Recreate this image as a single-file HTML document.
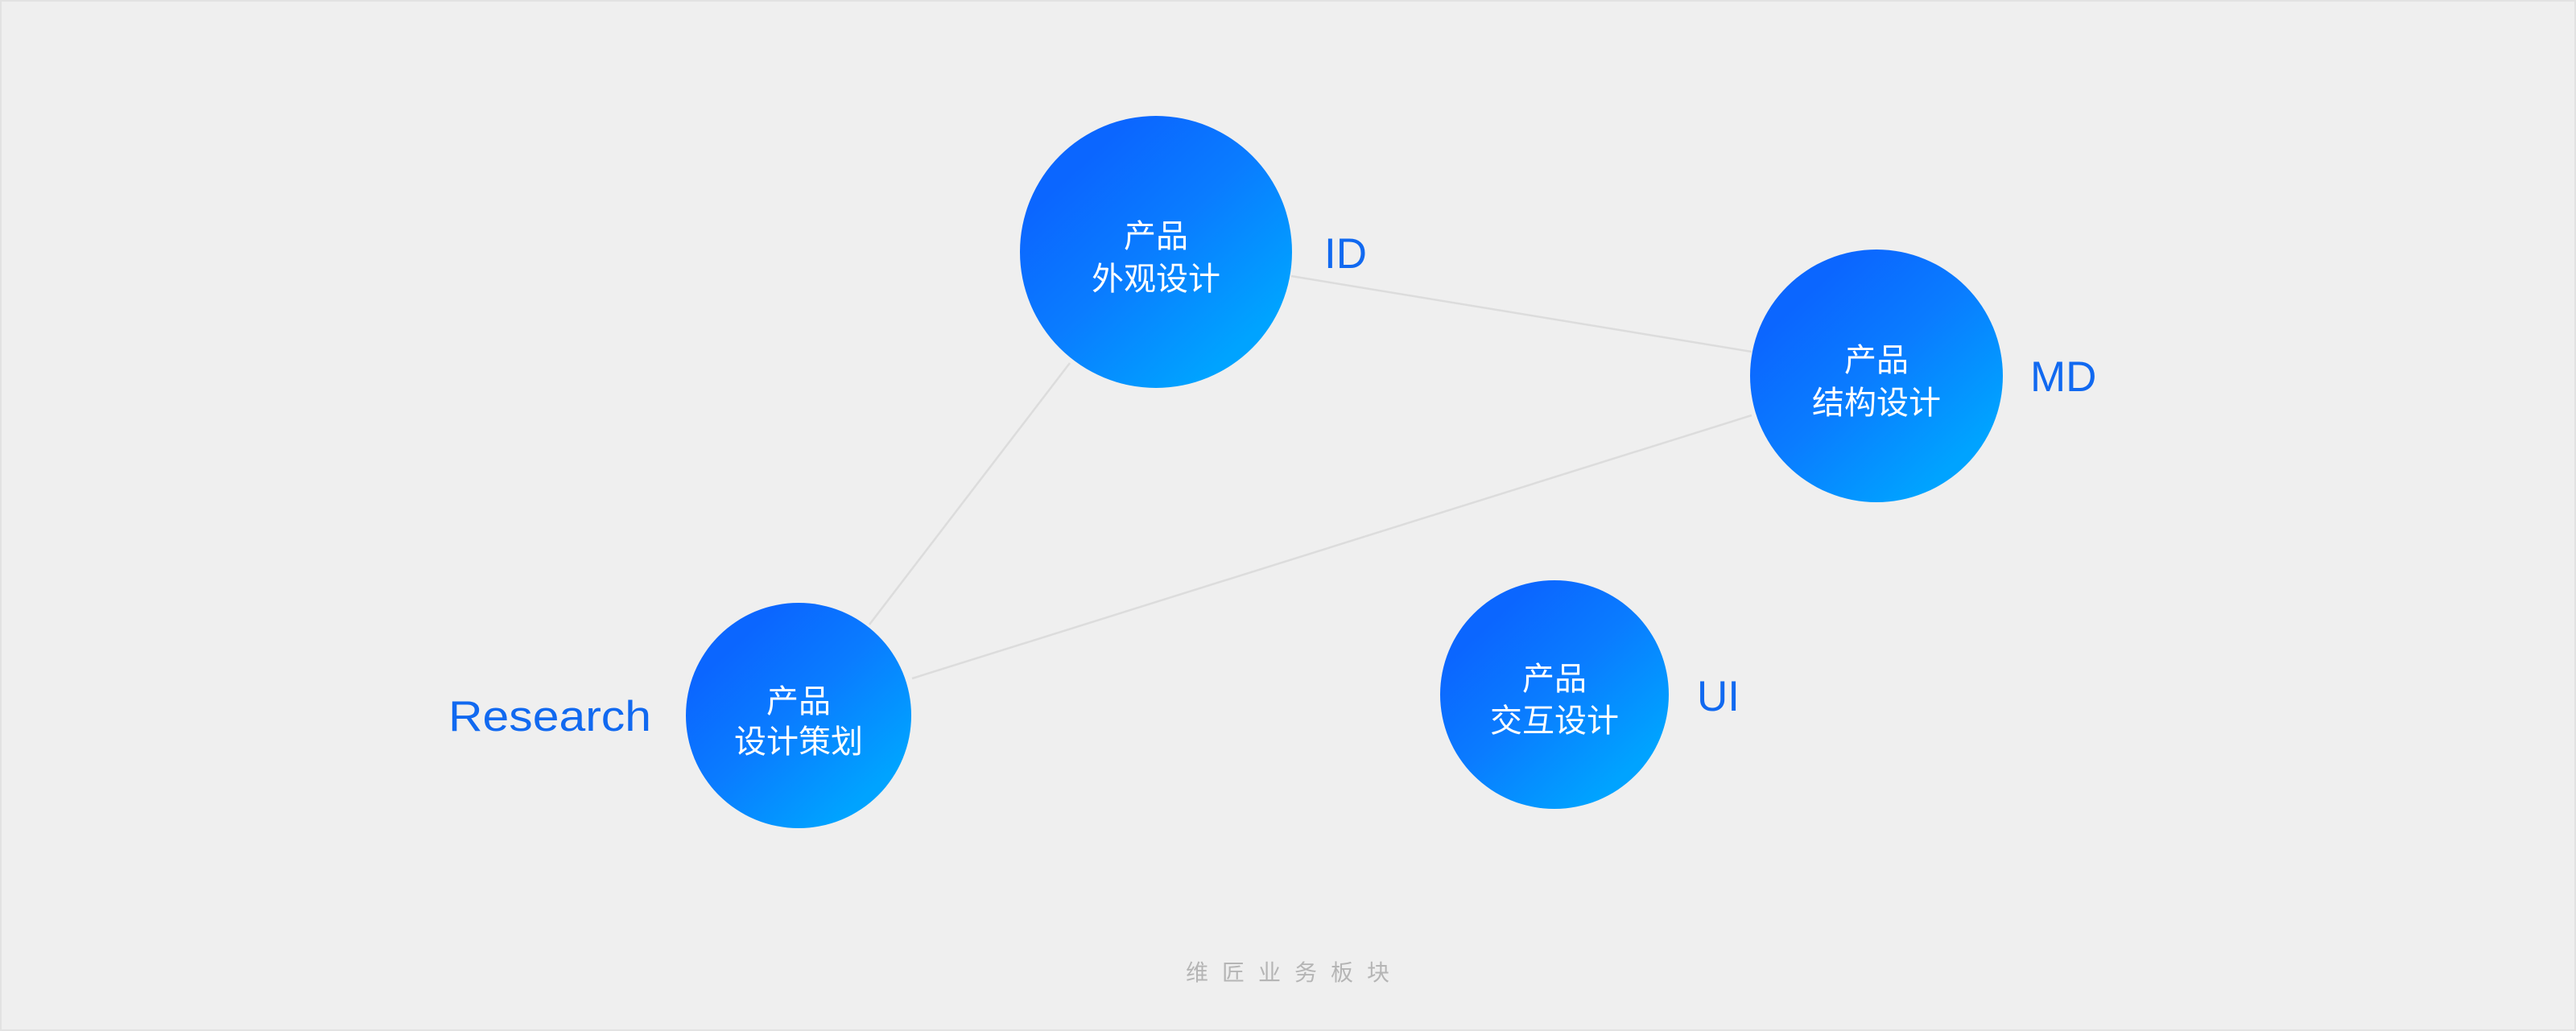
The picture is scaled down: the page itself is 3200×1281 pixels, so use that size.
<!DOCTYPE html>
<html><head><meta charset="utf-8"><style>
html,body{margin:0;padding:0;background:#efefef;}
svg{display:block;}
</style></head><body>
<svg width="3200" height="1281" viewBox="0 0 3200 1281" xmlns="http://www.w3.org/2000/svg">
<defs>
<linearGradient id="g" x1="0.2" y1="0.2" x2="0.8" y2="0.85">
<stop offset="0" stop-color="#0b66ff"/>
<stop offset="0.45" stop-color="#0a7cff"/>
<stop offset="1" stop-color="#00a3ff"/>
</linearGradient>
</defs>
<rect x="0" y="0" width="3200" height="1281" fill="#efefef"/>
<rect x="1" y="1" width="3198" height="1279" fill="none" stroke="#e2e2e2" stroke-width="2"/>
<g stroke="#dcdcdc" stroke-width="2.5">
<line x1="1604" y1="343" x2="2176" y2="437"/>
<line x1="1329" y1="451" x2="1080" y2="776"/>
<line x1="1133" y1="843" x2="2176" y2="516"/>
</g>
<circle cx="1436" cy="313" r="169" fill="url(#g)"/>
<circle cx="2331" cy="467" r="157" fill="url(#g)"/>
<circle cx="992" cy="889" r="140" fill="url(#g)"/>
<circle cx="1931" cy="863" r="142" fill="url(#g)"/>
<g font-family="'Liberation Sans','Noto Sans CJK SC',sans-serif" font-size="40" fill="#fff" text-anchor="middle">
<text x="1436" y="307">产品</text><text x="1436" y="360">外观设计</text>
<text x="2331" y="461">产品</text><text x="2331" y="514">结构设计</text>
<text x="992" y="885">产品</text><text x="992" y="935">设计策划</text>
<text x="1931" y="857">产品</text><text x="1931" y="909">交互设计</text>
</g>
<g font-family="'Liberation Sans',sans-serif" font-size="53" fill="#1169f0">
<text x="1645" y="333">ID</text>
<text x="2522" y="486">MD</text>
<text x="557" y="908" textLength="252" lengthAdjust="spacingAndGlyphs">Research</text>
<text x="2108" y="883">UI</text>
</g>
<text x="1473" y="1218" font-family="'Liberation Sans','Noto Sans CJK SC',sans-serif" font-size="28" fill="#b5b5b5" letter-spacing="17">维匠业务板块</text>
</svg>
</body></html>
